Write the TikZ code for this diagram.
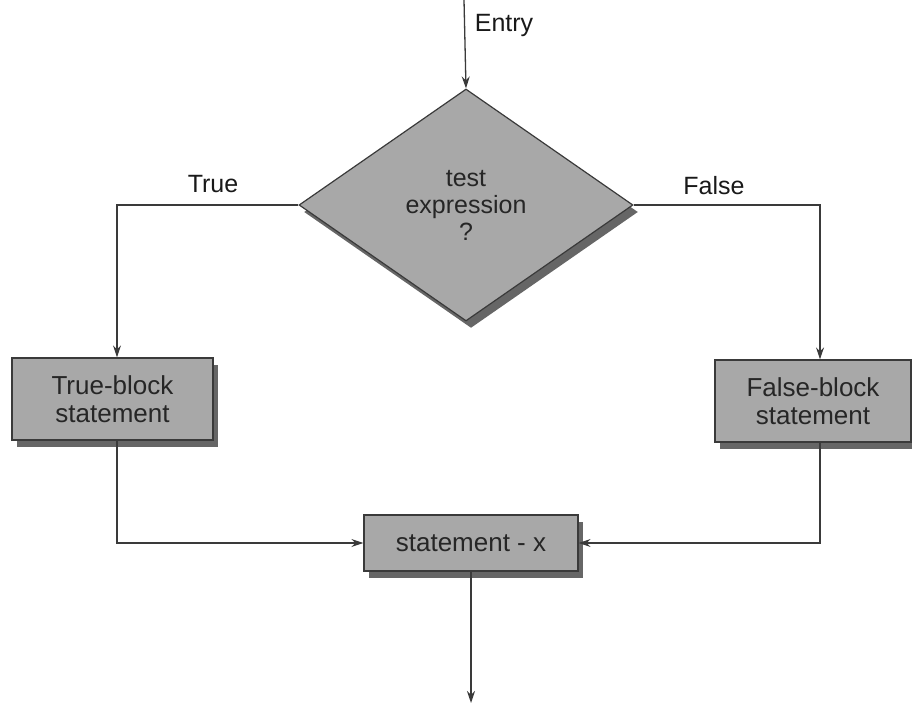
\documentclass[tikz,border=0pt]{standalone}
\usepackage{fontspec}
\setmainfont{Liberation Sans}
\usetikzlibrary{shapes.geometric,shadows,arrows.meta}
\definecolor{boxgray}{HTML}{A8A8A8}
\definecolor{linegray}{HTML}{3A3A3A}
\tikzset{
  shade box/.style={draw=linegray, line width=1.2pt, fill=boxgray,
    drop shadow={shadow xshift=5pt, shadow yshift=-7pt, fill=black, opacity=0.6},
    align=center, inner sep=0pt, font=\fontsize{26}{28}\selectfont, text=black!85},
  flow/.style={draw=linegray, line width=1.3pt, -{Stealth[length=12pt,width=8pt]}},
  lbl/.style={font=\fontsize{25}{28}\selectfont, text=black!90, inner sep=0pt},
}
\begin{document}
\begin{tikzpicture}[x=1pt,y=-1pt]
\useasboundingbox (0,0) rectangle (912,706);
\node[shade box, shape=diamond, minimum width=334pt, minimum height=232pt,
      font=\fontsize{25}{27}\selectfont] (d) at (466,205) {test\\expression\\?};
\node[shade box, rectangle, minimum width=201pt, minimum height=82pt] (tb) at (112.5,399) {True-block\\statement};
\node[shade box, rectangle, minimum width=196pt, minimum height=82pt] (fb) at (813,401) {False-block\\statement};
\node[shade box, rectangle, minimum width=214pt, minimum height=56pt] (sx) at (471,543) {statement - x};
\coordinate (entry) at (464,0);
\coordinate (exit) at (471,703);
\node[lbl] (entrylbl) at (504,25) {Entry};
\node[lbl] (truelbl) at (213,184) {True};
\node[lbl] (falselbl) at (714,186) {False};
\draw[flow] (entry) -- (d.north);
\draw[flow] (d.west) -| ([xshift=4.5pt]tb.north);
\draw[flow] (d.east) -| ([xshift=7pt]fb.north);
\draw[flow] ([xshift=4.5pt]tb.south) |- (sx.west);
\draw[flow] ([xshift=7pt]fb.south) |- (sx.east);
\draw[flow] (sx.south) -- (exit);
\end{tikzpicture}
\end{document}
